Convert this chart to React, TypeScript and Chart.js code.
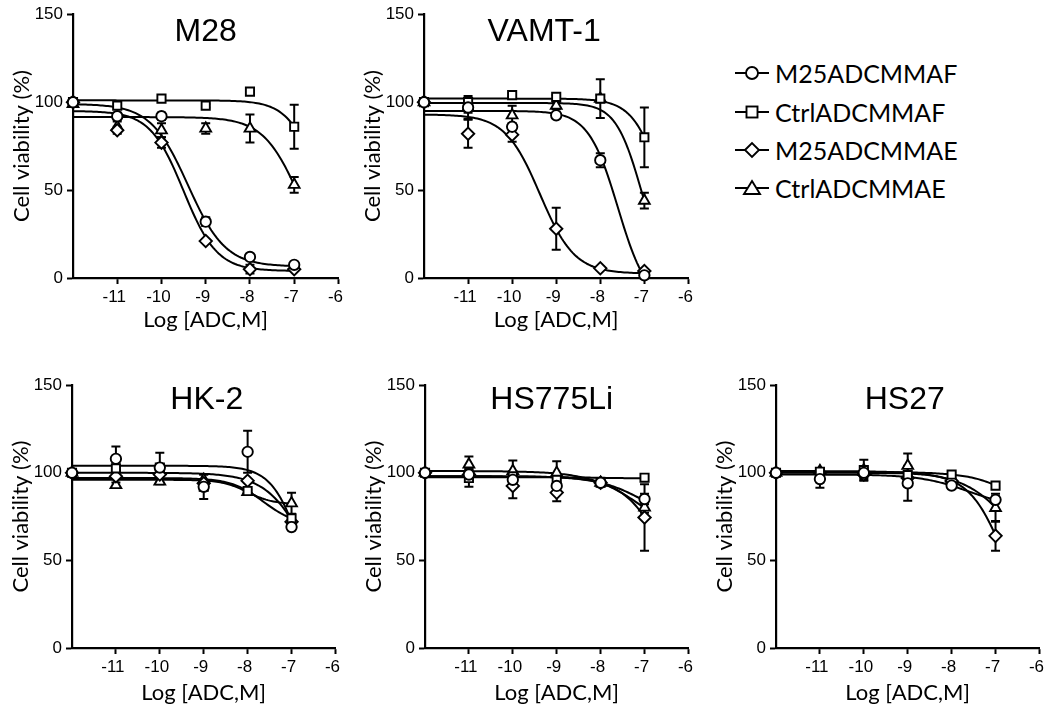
import React, { useEffect, useRef } from 'react';
import { Chart, registerables } from 'chart.js';

Chart.register(...registerables);

// ---------- data ----------
const LOG_DOSE = [-12, -11, -10, -9, -8, -7];
const SERIES = ['M25ADCMMAF', 'CtrlADCMMAF', 'M25ADCMMAE', 'CtrlADCMMAE'];
const MARKERS = ['circle', 'rect', 'rectRot', 'triangle'];
const X_LABEL = 'Log [ADC,M]';
const Y_LABEL = 'Cell viability (%)';

// rows: M25ADCMMAF, CtrlADCMMAF, M25ADCMMAE, CtrlADCMMAE
const M28_MEAN = [
  [100, 92, 92, 32, 12, 7.5],
  [100, 98, 102, 98, 106, 86],
  [100, 84, 77, 21, 5, 5],
  [99, 86, 84, 85, 85, 53],
];
const M28_SEM = [
  [0, 2, 2, 2.5, 1, 1],
  [0, 1, 1, 1, 1.5, 12.5],
  [0, 2, 3, 1, 2.5, 1],
  [0, 3, 4, 3, 8, 4.5],
];
// fitted curve parameters: top, bottom, logEC50, hill slope
const M28_FIT = [
  [99, 6.5, -9.4, 1.03],
  [101, 0, -6.39, 1.24],
  [95, 4, -9.5, 1.15],
  [91.5, 0, -6.87, 1.05],
];

const VAMT_MEAN = [
  [100, 97, 86, 92.5, 67, 1.5],
  [100, 100, 104, 103, 102, 80],
  [100, 82, 81.5, 28, 5.5, 4],
  [100, 97, 92.5, 98, 102, 44],
];
const VAMT_SEM = [
  [0, 3, 2, 1.5, 4, 1],
  [0, 1, 1, 1, 2, 17],
  [0, 8, 4, 12, 1, 1],
  [0, 6.5, 5.5, 2, 11, 4.5],
];
const VAMT_FIT = [
  [95, -15, -7.6, 1.3],
  [102, 0, -6.57, 1.3],
  [93, 2.5, -9.37, 1.106],
  [99.5, 0, -7.07, 1.5],
];

const HK2_MEAN = [
  [100, 108, 103, 92, 112, 69],
  [100, 102.5, 103, 92, 89.6, 74],
  [100, 98, 99, 94, 95.5, 72],
  [100, 93, 95, 96, 89, 82.6],
];
const HK2_SEM = [
  [0, 7, 8.5, 7, 12, 1.5],
  [0, 1, 1, 2, 1, 2],
  [0, 1, 1, 1, 1, 1.5],
  [0, 1.5, 1.5, 3, 1, 6],
];
const HK2_FIT = [
  [104, 0, -6.72, 1.26],
  [97, 70, -7.64, 1.18],
  [100, 0, -6.52, 0.9],
  [96, 82, -8, 1.5],
];

const HS775_MEAN = [
  [100, 99, 96, 92.5, 94.3, 85],
  [100, 97, 98, 96, 94.3, 97.2],
  [100, 99, 92.5, 88.7, 94.3, 74.5],
  [100, 104.8, 101, 100, 94.3, 80.2],
];
const HS775_SEM = [
  [0, 2, 3, 3, 1, 3],
  [0, 5, 3, 2, 1, 1],
  [0, 3, 7, 5, 1, 19],
  [0, 4.5, 6, 6.6, 1, 3],
];
const HS775_FIT = [
  [98, 70, -7, 0.82],
  [97.5, 96.8, -8, 1],
  [98, 0, -6.43, 0.89],
  [101, 60, -7.03, 0.73],
];

const HS27_MEAN = [
  [100, 96.4, 100, 94, 92.7, 84.6],
  [100, 100.6, 101.5, 98.7, 99, 92.7],
  [100, 100, 99, 97, 95.3, 64],
  [100, 101, 101.5, 104, 96, 80],
];
const HS27_SEM = [
  [0, 5, 3, 10, 1.5, 2],
  [0, 1, 1, 1, 1, 1.5],
  [0, 2, 3, 2, 1, 8.5],
  [0, 1.5, 6, 7, 1, 8],
];
const HS27_FIT = [
  [99, 80, -7.63, 0.8],
  [100.5, 0, -5.57, 0.75],
  [100, 0, -6.76, 1.06],
  [101, 0, -6.17, 0.7],
];

// ---------- layout ----------
const YW = 73; // y axis area width
const PT = 12; // top padding
const PR = 8; // right padding
const XH = 60; // x axis area height

const PANELS = [
  { title: 'M28', mean: M28_MEAN, sem: M28_SEM, fit: M28_FIT, left: 73, top: 12, w: 268, h: 266, titleDy: 27, titleDx: 0, xGap: 42 },
  { title: 'VAMT-1', mean: VAMT_MEAN, sem: VAMT_SEM, fit: VAMT_FIT, left: 424, top: 12, w: 267, h: 266, titleDy: 27, titleDx: -12, xGap: 42 },
  { title: 'HK-2', mean: HK2_MEAN, sem: HK2_SEM, fit: HK2_FIT, left: 72, top: 383, w: 266, h: 265, titleDy: 24, titleDx: 3, xGap: 45 },
  { title: 'HS775Li', mean: HS775_MEAN, sem: HS775_SEM, fit: HS775_FIT, left: 425, top: 383, w: 266, h: 265, titleDy: 24, titleDx: -5, xGap: 45 },
  { title: 'HS27', mean: HS27_MEAN, sem: HS27_SEM, fit: HS27_FIT, left: 776, top: 383, w: 266, h: 265, titleDy: 24, titleDx: -3, xGap: 45 },
];

const ARIAL = '"Liberation Sans", Arial, sans-serif';
const LATO = 'Lato, "Noto Sans", sans-serif';
const TICK_SIZE = 17;
const AXIS_TITLE_SIZE = 22;
const MARKER_RADIUS: Record<string, number> = { circle: 5.2, rect: 5.8, rectRot: 6.2, triangle: 6.2 };

// four-parameter logistic model evaluated with the fitted parameters above
function logistic(x: number, fit: number[]) {
  const [top, bottom, ec50, hill] = fit;
  return bottom + (top - bottom) / (1 + Math.pow(10, (x - ec50) * hill));
}
function curve(fit: number[]) {
  const x0 = LOG_DOSE[0];
  const x1 = LOG_DOSE[LOG_DOSE.length - 1];
  const n = 120;
  const pts = [];
  for (let i = 0; i <= n; i++) {
    const x = x0 + ((x1 - x0) * i) / n;
    pts.push({ x, y: logistic(x, fit) });
  }
  return pts;
}

const errorBarPlugin = {
  id: 'errorBars',
  beforeDatasetsDraw(chart: any) {
    const { ctx } = chart;
    const yScale = chart.scales.y;
    ctx.save();
    ctx.strokeStyle = '#000';
    ctx.lineWidth = 2;
    chart.data.datasets.forEach((ds: any, di: number) => {
      if (!ds.errorBars) return;
      const meta = chart.getDatasetMeta(di);
      meta.data.forEach((pt: any, i: number) => {
        const e = ds.errorBars[i];
        if (!e) return;
        const v = ds.data[i].y;
        const y1 = yScale.getPixelForValue(v + e);
        const y2 = yScale.getPixelForValue(v - e);
        const cap = 4.5;
        ctx.beginPath();
        ctx.moveTo(pt.x, y1);
        ctx.lineTo(pt.x, y2);
        ctx.moveTo(pt.x - cap, y1);
        ctx.lineTo(pt.x + cap, y1);
        ctx.moveTo(pt.x - cap, y2);
        ctx.lineTo(pt.x + cap, y2);
        ctx.stroke();
      });
    });
    ctx.restore();
  },
};

const panelTitlePlugin = {
  id: 'panelTitle',
  afterDraw(chart: any, _args: any, opts: any) {
    const { ctx, chartArea } = chart;
    ctx.save();
    ctx.font = `32px ${ARIAL}`;
    ctx.fillStyle = '#000';
    ctx.textAlign = 'center';
    ctx.textBaseline = 'alphabetic';
    ctx.fillText(opts.text, (chartArea.left + chartArea.right) / 2 + opts.dx, chartArea.top + opts.dy);
    ctx.restore();
  },
};

function Panel({ p }: { p: any }) {
  const ref = useRef<HTMLCanvasElement | null>(null);
  const cw = YW + p.w + PR;
  const ch = PT + p.h + XH;
  useEffect(() => {
    if (!ref.current) return;
    const pointSets = SERIES.map((name, s) => ({
      type: 'scatter',
      label: name,
      data: LOG_DOSE.map((x, i) => ({ x, y: p.mean[s][i] })),
      errorBars: p.sem[s],
      pointStyle: MARKERS[s],
      pointRadius: MARKER_RADIUS[MARKERS[s]],
      pointBackgroundColor: '#fff',
      pointBorderColor: '#000',
      pointBorderWidth: 1.9,
      showLine: false,
      clip: false,
      order: 0,
    }));
    const curveSets = SERIES.map((name, s) => ({
      type: 'line',
      label: name + ' fit',
      data: curve(p.fit[s]),
      borderColor: '#000',
      borderWidth: 2,
      pointRadius: 0,
      fill: false,
      tension: 0,
      clip: false,
      order: 1,
    }));
    const xTitleLH = AXIS_TITLE_SIZE * 1.2;
    const chart = new Chart(ref.current, {
      type: 'scatter',
      data: { datasets: [...pointSets, ...curveSets] as any },
      plugins: [errorBarPlugin, panelTitlePlugin],
      options: {
        responsive: false,
        animation: false,
        devicePixelRatio: 1,
        layout: { padding: { top: PT, right: PR, bottom: 0, left: 0 } },
        plugins: {
          legend: { display: false },
          tooltip: { enabled: false },
          panelTitle: { text: p.title, dx: p.titleDx, dy: p.titleDy },
        } as any,
        scales: {
          x: {
            type: 'linear',
            min: -12,
            max: -6,
            afterFit: (scale: any) => {
              scale.height = XH;
            },
            border: { display: true, color: '#000', width: 2.2 },
            grid: {
              drawOnChartArea: false,
              drawTicks: true,
              tickLength: 6,
              tickWidth: 2,
              tickColor: (c: any) => (c.tick && c.tick.value === -12 ? 'rgba(0,0,0,0)' : '#000'),
            },
            ticks: {
              stepSize: 1,
              autoSkip: false,
              maxRotation: 0,
              padding: 3,
              labelOffset: -3,
              color: '#000',
              font: { family: ARIAL, size: TICK_SIZE },
              callback: (v: any) => (v === -12 ? '' : String(v)),
            },
            title: {
              display: true,
              text: X_LABEL,
              color: '#000',
              font: { family: LATO, size: AXIS_TITLE_SIZE },
              padding: { top: 0, bottom: XH - p.xGap - xTitleLH / 2 },
            },
          },
          y: {
            type: 'linear',
            min: 0,
            max: 150,
            afterFit: (scale: any) => {
              scale.width = YW;
            },
            border: { display: true, color: '#000', width: 2.2 },
            grid: {
              drawOnChartArea: false,
              drawTicks: true,
              tickLength: 6,
              tickWidth: 2,
              tickColor: '#000',
            },
            ticks: {
              stepSize: 50,
              padding: 4,
              color: '#000',
              font: { family: ARIAL, size: TICK_SIZE },
            },
            title: {
              display: true,
              text: Y_LABEL,
              color: '#000',
              font: { family: LATO, size: AXIS_TITLE_SIZE },
              padding: { top: 22 - (AXIS_TITLE_SIZE * 1.2) / 2, bottom: 0 },
            },
          },
        },
      } as any,
    });
    return () => chart.destroy();
  }, [p]);
  return (
    <canvas
      ref={ref}
      width={cw}
      height={ch}
      style={{ position: 'absolute', left: p.left - YW, top: p.top - PT, width: cw, height: ch }}
    />
  );
}

function LegendMarker({ kind }: { kind: string }) {
  const cx = 17;
  const cy = 9;
  let shape: any = null;
  if (kind === 'circle') shape = <circle cx={cx} cy={cy} r={6} fill="#fff" stroke="#000" strokeWidth={1.9} />;
  if (kind === 'rect') shape = <rect x={cx - 5.5} y={cy - 5.5} width={11} height={11} fill="#fff" stroke="#000" strokeWidth={1.9} />;
  if (kind === 'rectRot')
    shape = <polygon points={`${cx - 7},${cy} ${cx},${cy - 7} ${cx + 7},${cy} ${cx},${cy + 7}`} fill="#fff" stroke="#000" strokeWidth={1.9} />;
  if (kind === 'triangle')
    shape = <polygon points={`${cx},${cy - 7} ${cx + 8},${cy + 6} ${cx - 8},${cy + 6}`} fill="#fff" stroke="#000" strokeWidth={1.9} />;
  return (
    <svg width={36} height={18} style={{ display: 'block' }}>
      <line x1={0} y1={cy} x2={34} y2={cy} stroke="#000" strokeWidth={1.9} />
      {shape}
    </svg>
  );
}

const LEGEND_ROWS_Y = [73, 112, 150, 188];

function Legend() {
  return (
    <>
      {SERIES.map((name, i) => (
        <div
          key={name}
          style={{
            position: 'absolute',
            left: 735,
            top: LEGEND_ROWS_Y[i] - 15,
            height: 30,
            display: 'flex',
            alignItems: 'center',
            whiteSpace: 'nowrap',
          }}
        >
          <LegendMarker kind={MARKERS[i]} />
          <span style={{ marginLeft: 4, fontFamily: LATO, fontSize: 25, color: '#000', lineHeight: '30px' }}>{name}</span>
        </div>
      ))}
    </>
  );
}

export default function App() {
  return (
    <div style={{ position: 'absolute', left: 0, top: 0, width: 1050, height: 711, overflow: 'hidden', background: '#fff' }}>
      {PANELS.map((p) => (
        <Panel key={p.title} p={p} />
      ))}
      <Legend />
    </div>
  );
}
